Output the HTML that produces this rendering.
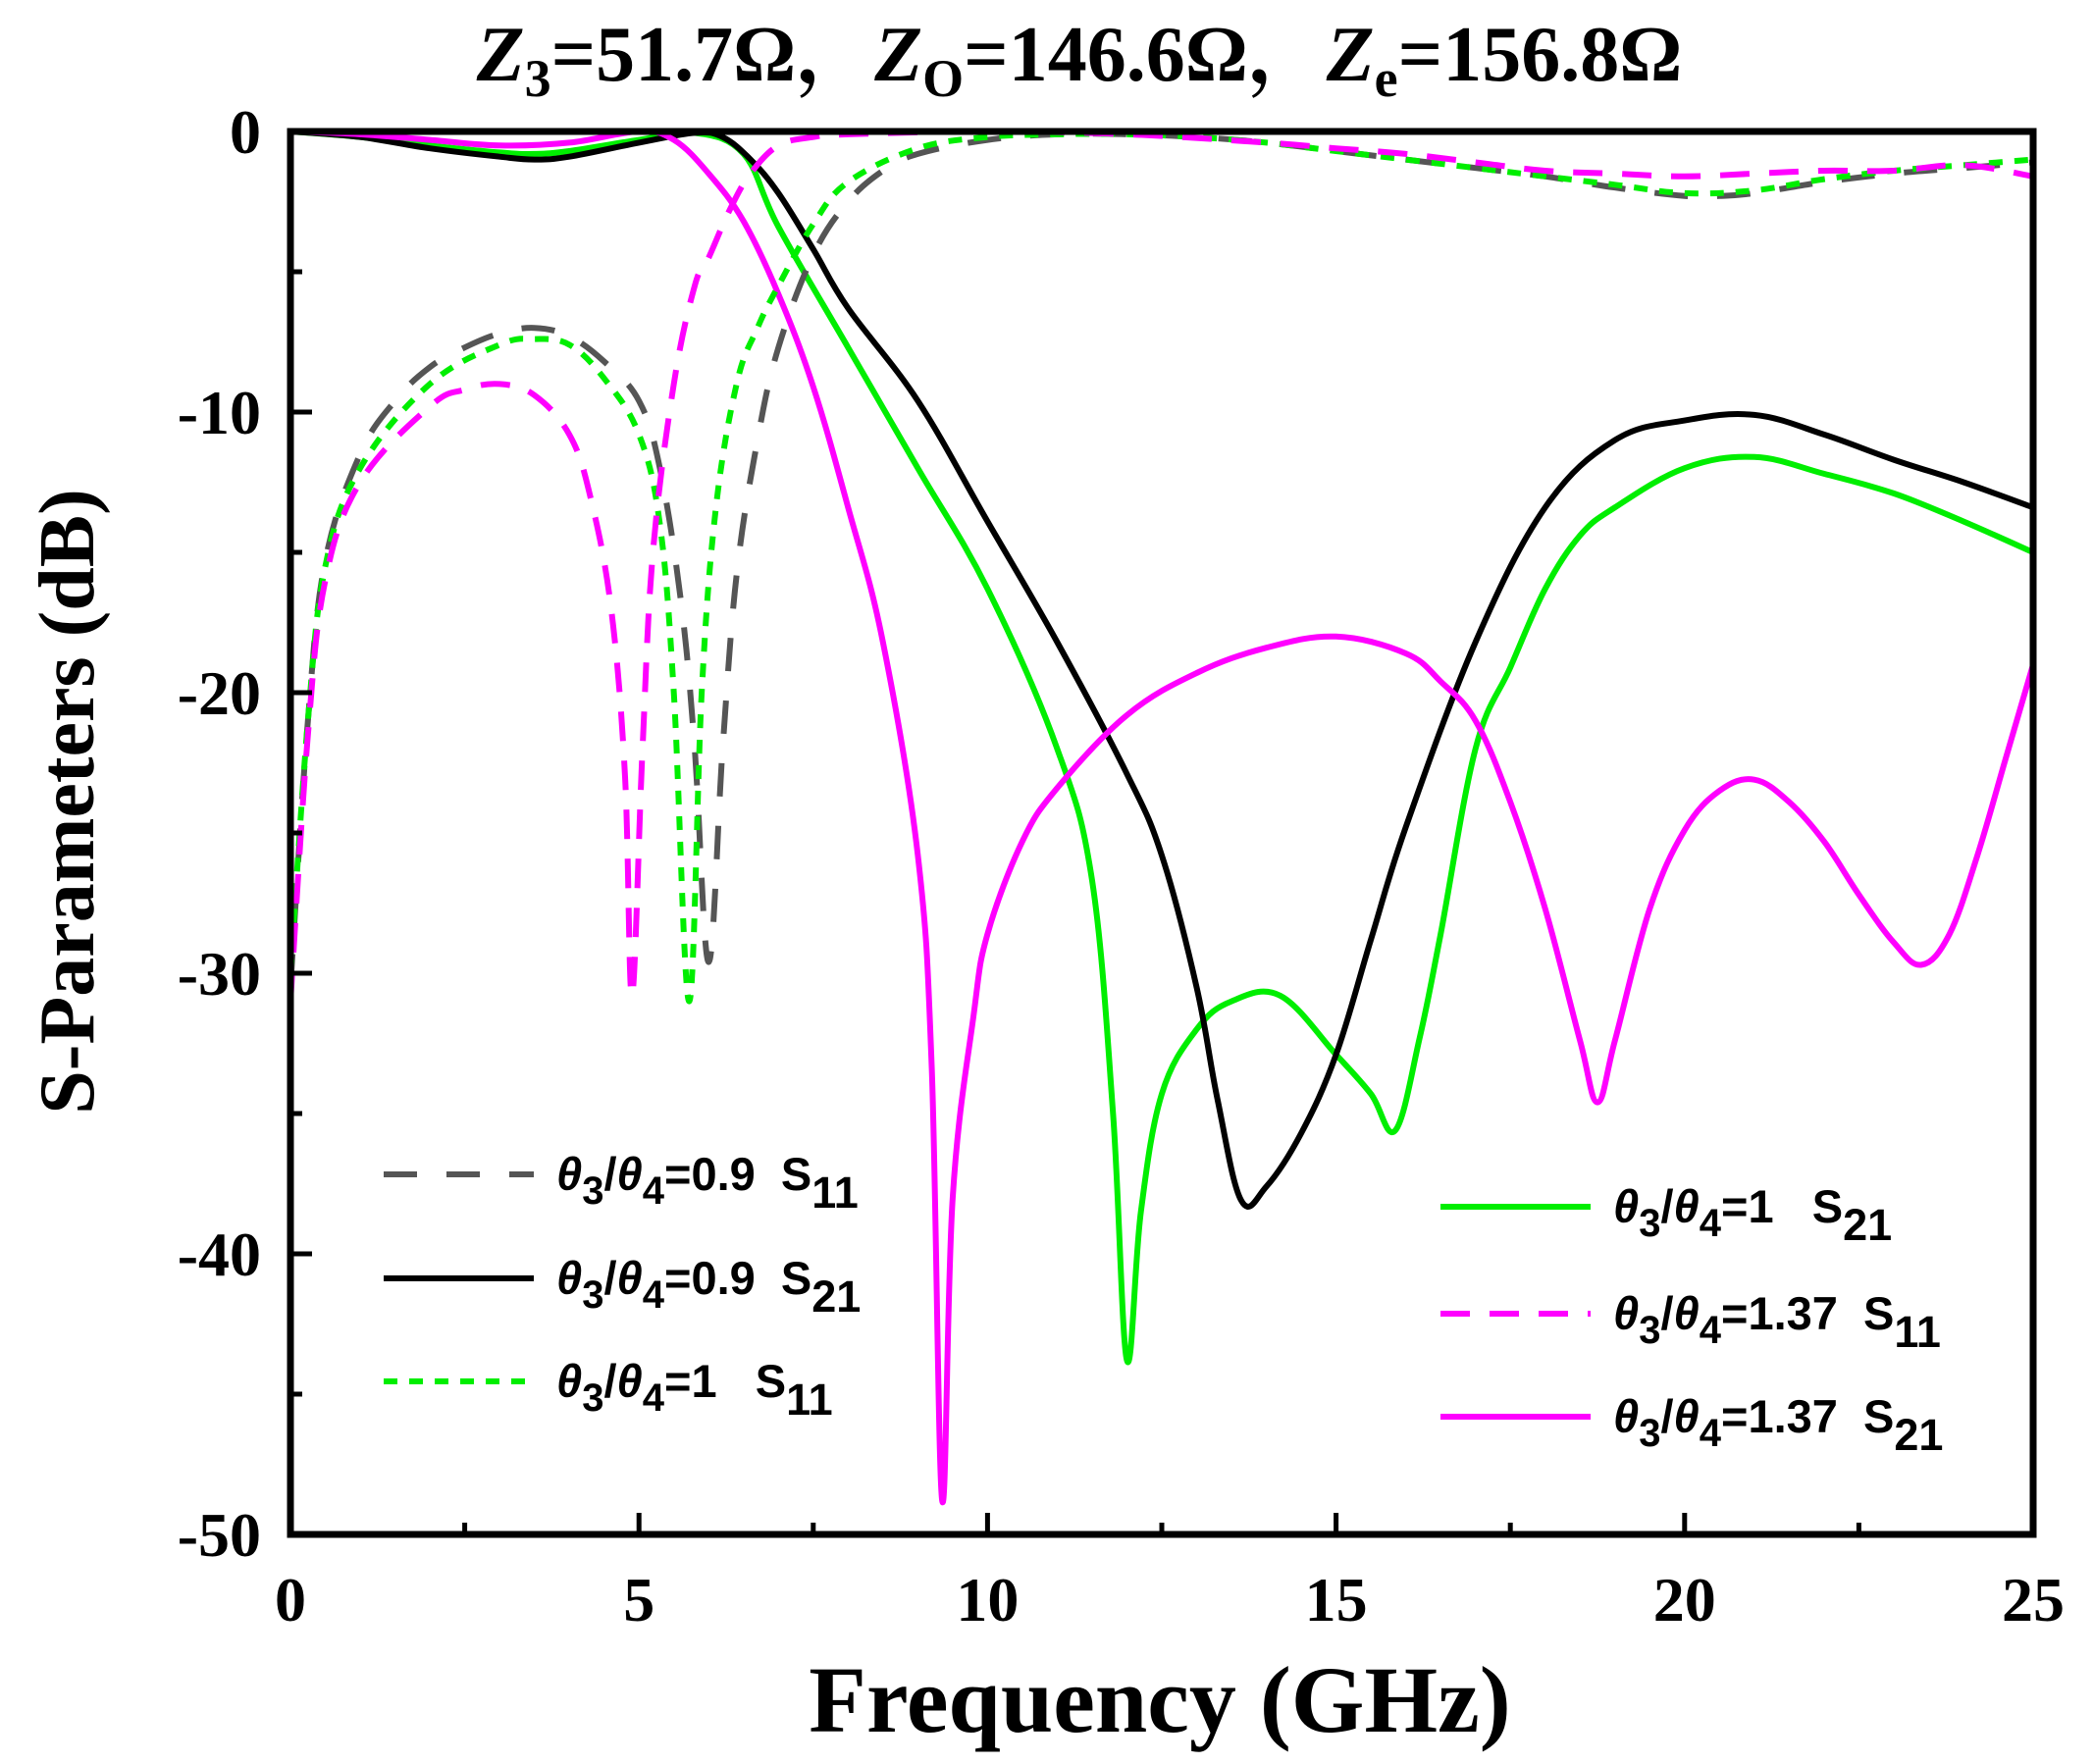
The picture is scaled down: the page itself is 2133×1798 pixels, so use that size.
<!DOCTYPE html>
<html><head><meta charset="utf-8"><style>
html,body{margin:0;padding:0;background:#fff;}
svg{display:block;}
.tk{font-family:"Liberation Serif",serif;font-weight:bold;font-size:64px;}
.lg{font-family:"Liberation Sans",sans-serif;font-size:47px;font-weight:bold;}
</style></head><body>
<svg id="chart" width="2133" height="1798" viewBox="0 0 2133 1798" xmlns="http://www.w3.org/2000/svg">
<text x="1100" y="82" text-anchor="middle" font-family="Liberation Serif, 'Noto Serif CJK SC', serif" font-weight="bold" font-size="80"><tspan font-style="italic">Z</tspan><tspan font-size="54" dy="16">3</tspan><tspan dy="-16">=51.7Ω，</tspan><tspan font-style="italic">Z</tspan><tspan font-size="54" dy="16">O</tspan><tspan dy="-16">=146.6Ω，</tspan><tspan font-style="italic">Z</tspan><tspan font-size="54" dy="16">e</tspan><tspan dy="-16">=156.8Ω</tspan></text>
<g id="series"></g>
<g id="axes"></g>
<text x="1182" y="1765" text-anchor="middle" font-family="Liberation Serif, serif" font-weight="bold" font-size="96">Frequency (GHz)</text>
<text transform="translate(95,817) rotate(-90)" text-anchor="middle" font-family="Liberation Serif, serif" font-weight="bold" font-size="80">S-Parameters (dB)</text>
<g id="legend"></g>
</svg>
<script>
const xTicks = [0,5,10,15,20,25];
const yTicks = [0,-10,-20,-30,-40,-50];
const legendLabels = ["0.9","0.9","1","1","1.37","1.37"];
const legendParams = ["11","21","11","21","11","21"];

const g09s11x = [0,0.25,0.5,1,1.5,2,2.5,3,3.5,4,4.5,5,5.3,5.6,5.8,6.0,6.2,6.4,6.7,7,7.5,8,8.5,9,10,11,12,13,14,15,16,17,18,19,20,20.5,21,22,23,24,25];
const g09s11y = [-30.5,-21,-15.3,-11.5,-9.6,-8.4,-7.7,-7.2,-7.0,-7.3,-8.2,-9.6,-12,-16.7,-22,-29.6,-22,-15.8,-11,-7.7,-4.4,-2.5,-1.4,-0.8,-0.3,-0.1,-0.1,-0.2,-0.4,-0.7,-1.0,-1.3,-1.6,-2.0,-2.3,-2.3,-2.2,-1.8,-1.5,-1.3,-1.1];
const g09s21x = [0,1,2,3,3.5,4,5,5.8,6.2,6.6,7,7.5,8,9,10,11,12,12.5,13,13.3,13.64,14,14.5,15,15.5,16,17,18,19,20,21,22,23,24,25];
const g09s21y = [0,-0.2,-0.6,-0.9,-1.0,-0.9,-0.4,-0.05,-0.2,-1.0,-2.2,-4.2,-6.3,-9.6,-13.9,-18.2,-22.9,-25.8,-30.5,-34.5,-38.1,-37.6,-35.7,-32.9,-28.8,-24.8,-18.2,-13.4,-11.0,-10.3,-10.1,-10.8,-11.7,-12.5,-13.4];
const g1s11x = [0,0.25,0.5,1,2,3,3.5,4,4.5,5,5.3,5.5,5.72,5.9,6.1,6.4,6.7,7,7.5,8,9,10,11,12,13,14,15,16,17,18,19,20,21,22,23,24,25];
const g1s11y = [-30,-21,-15.5,-12,-9,-7.6,-7.4,-7.6,-8.8,-10.8,-14,-20,-31,-20,-13.5,-9,-7,-5.5,-3.3,-1.8,-0.6,-0.2,-0.1,-0.1,-0.2,-0.4,-0.7,-1.0,-1.3,-1.6,-1.9,-2.2,-2.1,-1.7,-1.4,-1.2,-1.0];
const g1s21x = [0,1,2,3,3.5,4,5,5.8,6.5,7,8,9,10,11,11.5,11.8,12,12.2,12.5,13,13.5,14.2,15,15.5,15.85,16.2,16.5,17,17.5,18,18.5,19,20,21,22,23,24,25];
const g1s21y = [0,-0.2,-0.5,-0.75,-0.8,-0.7,-0.3,-0.05,-0.8,-3.4,-7.7,-12,-16.3,-22,-26.7,-35,-43.8,-38.5,-34.3,-32,-31,-30.8,-32.9,-34.3,-35.6,-32.3,-28.6,-22,-19.1,-16.3,-14.4,-13.4,-12,-11.6,-12.2,-12.9,-13.9,-15];
const g137s11x = [0,0.25,0.5,1,2,2.5,3,3.5,4,4.3,4.6,4.8,4.9,5.05,5.2,5.5,5.8,6,6.3,6.6,7,7.5,8,10,12,14,15,16,17,18,19,20,21,22,23,24,25];
const g137s11y = [-31,-21.5,-16,-12.5,-9.8,-9.2,-9,-9.4,-10.8,-13,-17,-23,-30.8,-22,-15,-9,-5.5,-4.5,-2.8,-1.5,-0.5,-0.2,-0.1,0,-0.1,-0.4,-0.6,-0.8,-1.1,-1.4,-1.5,-1.6,-1.5,-1.4,-1.4,-1.2,-1.6];
const g137s21x = [0,1,2,3,4,5,5.5,6,6.5,7,7.5,8,8.5,9,9.2,9.35,9.5,9.8,10,10.5,11,12,13,14,15,16,16.5,17,17.5,18,18.5,18.75,19,19.5,20,20.5,21,21.5,22,22.5,23,23.4,23.8,24.2,24.6,25];
const g137s21y = [0,-0.1,-0.3,-0.5,-0.4,0,-0.3,-1.5,-3.2,-5.8,-9.1,-13.4,-18.2,-25.8,-33.4,-48.8,-38,-31.5,-28.6,-25.3,-23.4,-20.8,-19.3,-18.4,-18,-18.6,-19.6,-21,-23.9,-27.7,-32.4,-34.6,-32.4,-27.7,-24.9,-23.5,-23.1,-23.9,-25.3,-27.2,-28.9,-29.7,-28.6,-25.8,-22.4,-19];

const X0=296, X1=2072, Y0=134, Y1=1564;
const xs = v => X0 + (v-0)/(25-0)*(X1-X0);
const ys = v => Y0 + (0-v)/(0-(-50))*(Y1-Y0);
const NS="http://www.w3.org/2000/svg";
function mk(tag, attrs){const e=document.createElementNS(NS,tag);for(const k in attrs)e.setAttribute(k,attrs[k]);return e;}
function pathFrom(xa,ya){
  const p=xa.map((x,i)=>[xs(x),ys(ya[i])]);
  let d="M"+p[0][0].toFixed(1)+","+p[0][1].toFixed(1);
  for(let i=0;i<p.length-1;i++){
    const p0=p[Math.max(0,i-1)],p1=p[i],p2=p[i+1],p3=p[Math.min(p.length-1,i+2)];
    const t=0.18;
    const c1=[p1[0]+(p2[0]-p0[0])*t,p1[1]+(p2[1]-p0[1])*t];
    const c2=[p2[0]-(p3[0]-p1[0])*t,p2[1]-(p3[1]-p1[1])*t];
    d+=" C"+c1.map(v=>v.toFixed(1)).join(",")+" "+c2.map(v=>v.toFixed(1)).join(",")+" "+p2.map(v=>v.toFixed(1)).join(",");
  }
  return d;
}
const styles=[
 {x:g09s11x,y:g09s11y,c:"#555555",dash:"34,30",n:"series-0-9-s11"},
 {x:g09s21x,y:g09s21y,c:"#000000",dash:"",n:"series-0-9-s21"},
 {x:g1s11x,y:g1s11y,c:"#00ee00",dash:"14,12",n:"series-1-s11"},
 {x:g1s21x,y:g1s21y,c:"#00ee00",dash:"",n:"series-1-s21"},
 {x:g137s11x,y:g137s11y,c:"#ff00ff",dash:"30,20",n:"series-1-37-s11"},
 {x:g137s21x,y:g137s21y,c:"#ff00ff",dash:"",n:"series-1-37-s21"}
];
const sg=document.getElementById("series");
const order=[3,1,5,0,2,4];
order.forEach(i=>{const s=styles[i];
  const p=mk("path",{d:pathFrom(s.x,s.y),fill:"none",stroke:s.c,"stroke-width":6,"stroke-dasharray":s.dash,"stroke-linejoin":"round"});
  
  
  sg.appendChild(p);
});
const ax=document.getElementById("axes");
const frame=mk("rect",{x:X0,y:Y0,width:X1-X0,height:Y1-Y0,fill:"none",stroke:"#000","stroke-width":7});


ax.appendChild(frame);
for(let v=0;v<=25;v+=2.5){
  const major=xTicks.includes(v);
  const t=mk("line",{x1:xs(v),x2:xs(v),y1:Y1,y2:Y1-(major?22:12),stroke:"#000","stroke-width":5});
  
  
  ax.appendChild(t);
}
for(let v=0;v>=-50;v-=5){
  const major=yTicks.includes(v);
  const t=mk("line",{x1:X0,x2:X0+(major?22:12),y1:ys(v),y2:ys(v),stroke:"#000","stroke-width":5});
  
  
  ax.appendChild(t);
}
xTicks.forEach(v=>{const t=mk("text",{x:xs(v),y:1652,"text-anchor":"middle",class:"tk"});t.textContent=v;
  
  
  ax.appendChild(t);});
yTicks.forEach(v=>{const t=mk("text",{x:266,y:ys(v)+22,"text-anchor":"end",class:"tk"});t.textContent=v;
  
  
  ax.appendChild(t);});
const lg=document.getElementById("legend");
const pos=[[391,1197],[391,1303],[391,1408],[1468,1230],[1468,1339],[1468,1444]];
styles.forEach((s,i)=>{
  const [lx,ly]=pos[i];
  const g=mk("g",{});
  
  
  g.appendChild(mk("line",{x1:lx,x2:lx+153,y1:ly,y2:ly,stroke:s.c,"stroke-width":6,"stroke-dasharray":s.dash}));
  const t=mk("text",{x:lx+176,y:ly+16,class:"lg"});
  const sp = legendLabels[i]==="1" ? "\u00a0\u00a0\u00a0" : "\u00a0\u00a0";
  t.innerHTML='<tspan font-style="italic">θ</tspan><tspan font-size="40" dy="14">3</tspan><tspan dy="-14">/</tspan><tspan font-style="italic">θ</tspan><tspan font-size="40" dy="14">4</tspan><tspan dy="-14">='+legendLabels[i]+sp+'S</tspan><tspan font-size="45" dy="18">'+legendParams[i]+'</tspan>';
  g.appendChild(t);
  lg.appendChild(g);
});
</script>
</body></html>
